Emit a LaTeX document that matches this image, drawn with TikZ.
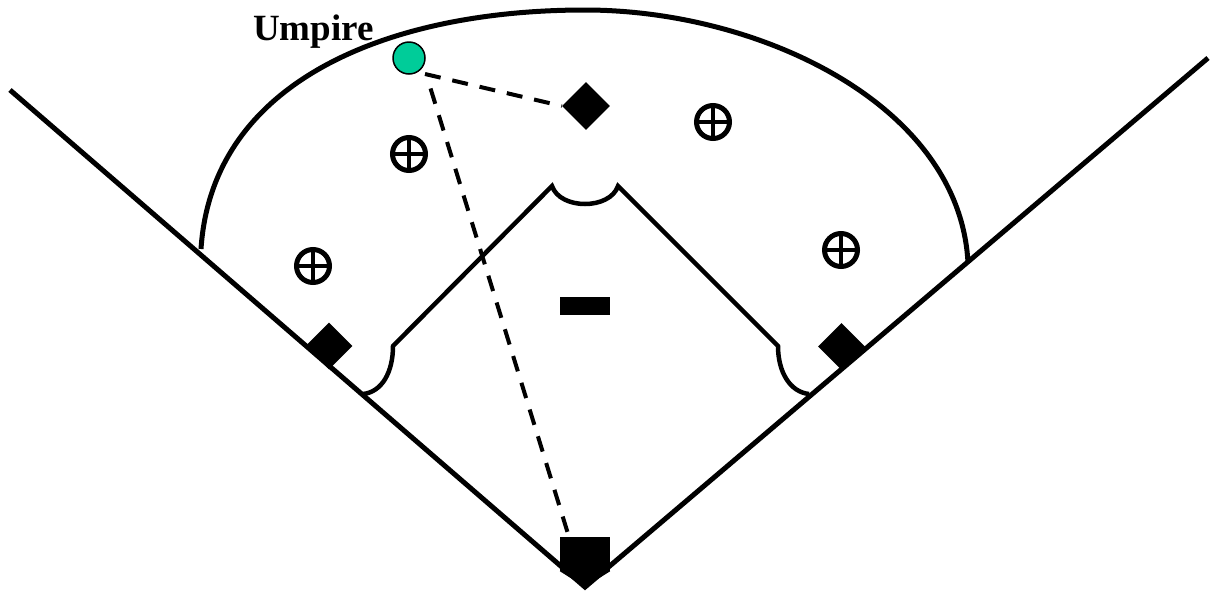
\documentclass[tikz,border=0pt]{standalone}
\usepackage{fontspec}
\setmainfont{Liberation Serif}
\usetikzlibrary{shapes.geometric}
\definecolor{umpgreen}{HTML}{00CC99}
\tikzset{
  thickline/.style={line width=5pt,line cap=butt,line join=miter},
  dashline/.style={line width=4pt,dash pattern=on 16pt off 12pt},
  basemark/.style={diamond,fill=black,inner sep=0pt,minimum width=#1,minimum height=#1},
  fielder/.style={circle,draw=black,line width=5pt,inner sep=0pt,minimum size=33pt,
    path picture={\draw[line width=3.5pt] (path picture bounding box.north)--(path picture bounding box.south)
      (path picture bounding box.west)--(path picture bounding box.east);}},
  umpirenode/.style={circle,draw=black,line width=1.5pt,fill=umpgreen,inner sep=0pt,minimum size=32pt},
  labeltext/.style={font=\fontsize{37}{40}\selectfont\bfseries,inner sep=0pt,anchor=base west},
  pitcherbar/.style={rectangle,fill=black,inner sep=0pt,minimum width=50pt,minimum height=18pt}
}
\begin{document}
\begin{tikzpicture}[x=1pt,y=-1pt]
\useasboundingbox (0,0) rectangle (1212,590);
% named points
\coordinate (lf) at (10,90);
\coordinate (rf) at (1208,58);
\coordinate (hp) at (585,587);
\coordinate (al) at (201,249);
\coordinate (ar) at (968,263);
\coordinate (il) at (393,346);
\coordinate (ilt) at (552,186);
\coordinate (irt) at (618,186);
\coordinate (ir) at (778,346);
\coordinate (cl) at (363,394);
\coordinate (cr) at (809,394);
\coordinate (dcorner) at (425,74);
\coordinate (dstart) at (427,77);
\coordinate (dhome) at (569,537);
\coordinate (atop) at (585,10);
% foul lines
\draw[thickline] (lf) -- (hp) -- (rf);
% outfield arc
\draw[thickline] (al) .. controls (212,80) and (390,10) .. (atop) .. controls (760,10) and (960,105) .. (ar);
% infield
\draw[thickline,line width=4.5pt] (cl) .. controls (382,392) and (393,372) .. (il) -- (ilt)
  .. controls (560,210) and (610,210) .. (irt) -- (ir)
  .. controls (778,372) and (790,392) .. (cr);
% bases
\node[basemark=48pt] (second) at (586,106) {};
\node[basemark=47pt] (third) at (329,346) {};
\node[basemark=47pt] (first) at (841.5,346.5) {};
\node[rectangle,fill=black,inner sep=0pt,minimum width=50pt,minimum height=34pt] (home) at (585,554) {};
\fill[black] (home.south west) -- (hp) -- (home.south east) -- cycle;
% fielders
\node[fielder] (f1) at (409,154) {};
\node[fielder] (f2) at (313,266) {};
\node[fielder] (f3) at (713,122) {};
\node[fielder] (f4) at (841,250) {};
\node[pitcherbar] (pitcher) at (585,306) {};
% umpire
\draw[dashline] (dcorner) -- (second.west);
\draw[dashline,dash phase=16pt] (dstart) -- (dhome);
\node[umpirenode] (ump) at (409,58) {};
\node[labeltext] (umplabel) at (253,40) {Umpire};
\end{tikzpicture}
\end{document}
